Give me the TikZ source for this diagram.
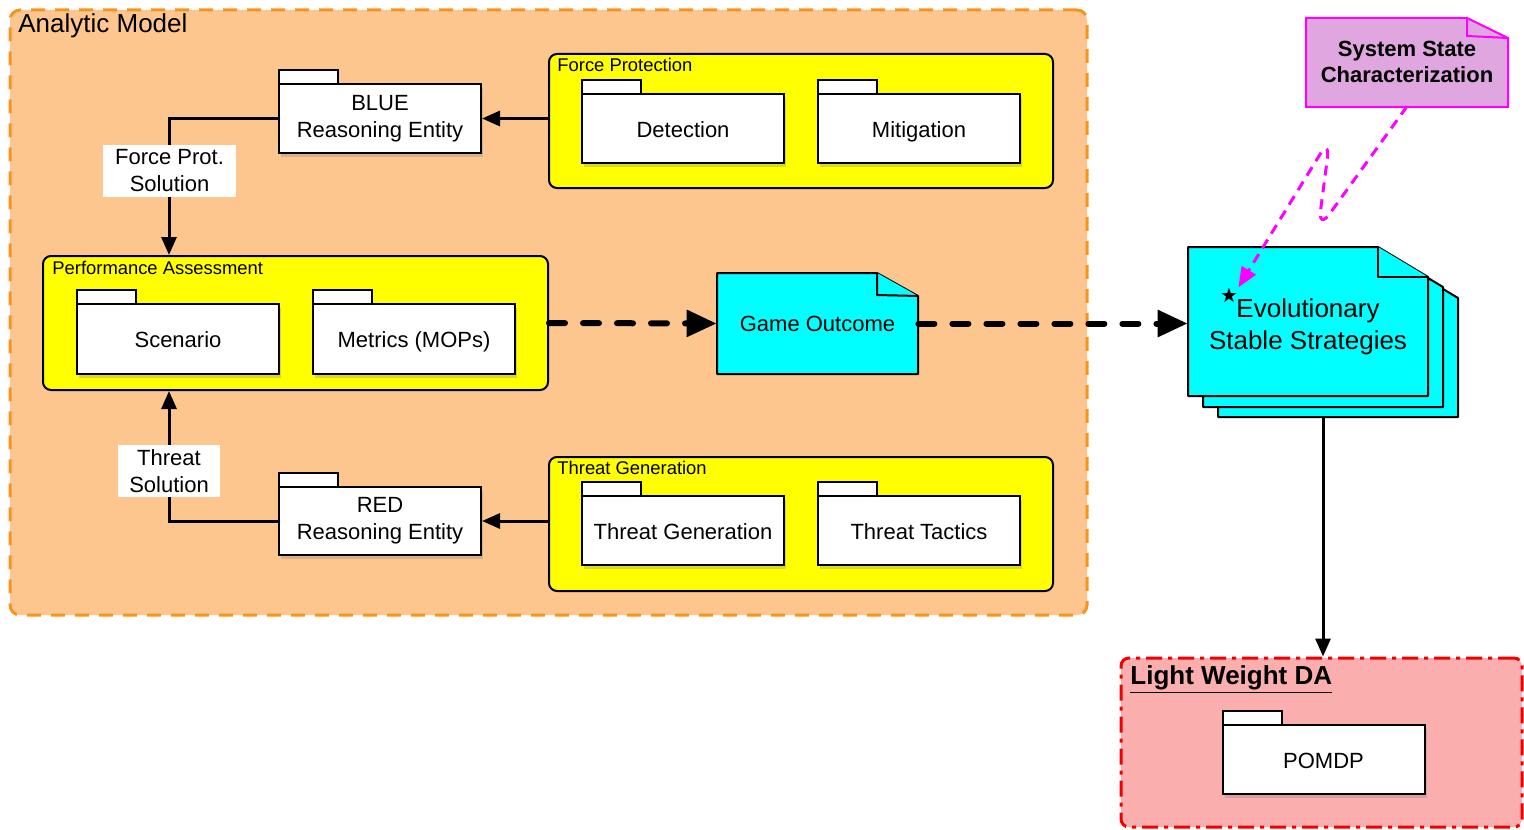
\documentclass[tikz,border=0pt]{standalone}
\usepackage{fontspec}
\setmainfont{Liberation Sans}
\newfontfamily\starfont{DejaVu Sans}
\usetikzlibrary{arrows.meta,shadows}
\newlength{\du}
\setlength{\du}{0.5\unitlength}
\definecolor{peachfill}{RGB}{253,198,143}
\definecolor{peachline}{RGB}{247,148,29}
\definecolor{groupyellow}{RGB}{255,255,0}
\definecolor{notecyan}{RGB}{0,255,255}
\definecolor{pinkfill}{RGB}{250,174,174}
\definecolor{daline}{RGB}{240,0,0}
\definecolor{lavender}{RGB}{223,166,223}
\definecolor{magline}{RGB}{255,0,255}
\tikzset{
  analyticbox/.style={draw=peachline, fill=peachfill, line width=3\du, dash pattern=on 14\du off 10\du,
    rounded corners=10\du, minimum width=1077\du, minimum height=605\du, inner sep=0pt},
  groupbox/.style={draw, fill=groupyellow, line width=2\du, rounded corners=8\du,
    minimum width=504\du, minimum height=134\du, inner sep=0pt},
  dabox/.style={draw=daline, fill=pinkfill, line width=3\du, dash pattern=on 16\du off 6\du on 4\du off 6\du,
    rounded corners=8\du, minimum width=401\du, minimum height=169\du, inner sep=0pt},
  biglabel/.style={anchor=base west, inner sep=0pt, font=\fontsize{13}{13}\selectfont},
  grouplabel/.style={anchor=west, inner sep=0pt, font=\fontsize{9.2}{9.2}\selectfont},
  pkgtab/.style={draw, fill=white, line width=2\du},
  package/.style={draw, fill=white, line width=2\du, minimum width=202\du, minimum height=69\du,
    inner sep=0pt, align=center, font=\fontsize{11}{13.5}\selectfont,
    drop shadow={shadow xshift=2\du, shadow yshift=-4\du, opacity=0.3}},
  pkgline/.style={package, text height=9pt, text depth=0.5pt},
  notepaper/.style={draw, fill=notecyan, line width=2\du, line join=round},
  notetext/.style={inner sep=0pt, align=center},
  solution/.style={fill=white, inner xsep=0pt, inner ysep=0pt, minimum height=52\du,
    align=center, font=\fontsize{11}{13.5}\selectfont},
  solidarrow/.style={line width=3\du, -{Triangle[length=9pt,width=7.5pt]}},
  flowarrow/.style={line width=6\du, line cap=round, dash pattern=on 16\du off 18\du,
    -{Triangle[length=15pt,width=13pt]}},
  magarrow/.style={draw=magline, line width=3\du, dash pattern=on 10\du off 7\du, rounded corners=20\du,
    -{Triangle[length=10pt,width=8pt,fill=magline]}},
}

\begin{document}
\begin{tikzpicture}
\pgftransformxscale{1.000000}
\pgftransformyscale{-1.000000}
\useasboundingbox (0\du,0\du) rectangle (1524\du,829\du);
% Analytic Model
\node[analyticbox] (analytic) at (548.5\du,312.5\du) {};
% setfont left to latex
\node[biglabel] (analyticlabel) at (18\du,33\du) {Analytic Model};
% Force Protection
\node[groupbox] (forceprot) at (801\du,121\du) {};
\node[grouplabel] (forceprotlabel) at (557\du,65\du) {Force Protection};
\filldraw[pkgtab] (582\du,80\du) rectangle (641\du,94\du);
\node[pkgline] (detection) at (683\du,128.5\du) {Detection};
\filldraw[pkgtab] (818\du,80\du) rectangle (877\du,94\du);
\node[pkgline] (mitigation) at (919\du,128.5\du) {Mitigation};
% BLUE
\filldraw[pkgtab] (279\du,70\du) rectangle (338\du,84\du);
\node[package] (blue) at (380\du,118.5\du) {BLUE\\Reasoning Entity};
% Performance Assessment
\node[groupbox, minimum width=505\du] (perf) at (295.5\du,323\du) {};
\node[grouplabel] (perflabel) at (52\du,268\du) {Performance Assessment};
\filldraw[pkgtab] (77\du,290\du) rectangle (136\du,304\du);
\node[pkgline, minimum height=70\du] (scenario) at (178\du,339\du) {Scenario};
\filldraw[pkgtab] (313\du,290\du) rectangle (372\du,304\du);
\node[pkgline, minimum height=70\du] (metrics) at (414\du,339\du) {Metrics (MOPs)};
% Threat Generation
\node[groupbox] (threatgen) at (801\du,524\du) {};
\node[grouplabel] (threatgenlabel) at (557\du,468\du) {Threat Generation};
\filldraw[pkgtab] (582\du,482\du) rectangle (641\du,496\du);
\node[pkgline] (generation) at (683\du,530.5\du) {Threat Generation};
\filldraw[pkgtab] (818\du,482\du) rectangle (877\du,496\du);
\node[pkgline] (tactics) at (919\du,530.5\du) {Threat Tactics};
% RED
\filldraw[pkgtab] (279\du,473\du) rectangle (338\du,487\du);
\node[package, minimum height=68\du] (red) at (380\du,521\du) {RED\\Reasoning Entity};
% Game Outcome
\filldraw[notepaper] (717\du,273\du)--(877\du,273\du)--(918\du,296\du)--(918\du,374\du)--(717\du,374\du)--cycle;
\draw[notepaper] (877\du,273\du)--(877\du,295\du)--(918\du,296\du);
\node[notetext, minimum width=201\du, minimum height=101\du, font=\fontsize{11}{13.5}\selectfont] (outcome) at (817.5\du,323.5\du) {Game Outcome};
% Evolutionary Stable Strategies
\filldraw[notepaper] (1218\du,268\du)--(1408\du,268\du)--(1458\du,298\du)--(1458\du,417\du)--(1218\du,417\du)--cycle;
\filldraw[notepaper] (1203\du,257\du)--(1393\du,257\du)--(1443\du,287\du)--(1443\du,407\du)--(1203\du,407\du)--cycle;
\filldraw[notepaper] (1188\du,247\du)--(1378\du,247\du)--(1428\du,277\du)--(1428\du,396\du)--(1188\du,396\du)--cycle;
\draw[notepaper] (1378\du,247\du)--(1378\du,277\du)--(1428\du,277\du);
\node[notetext, minimum width=240\du, minimum height=149\du, font=\fontsize{13}{16}\selectfont] (ess) at (1308\du,327\du) {Evolutionary\\Stable Strategies};
\node[inner sep=0pt, font=\starfont\fontsize{10}{10}\selectfont] (star) at (1229\du,295\du) {★};
\coordinate (esstail) at (1323\du,418\du);
% System State Characterization
\filldraw[draw=magline, fill=lavender, line width=2\du] (1306\du,18\du)--(1467\du,18\du)--(1508\du,38\du)--(1508\du,107\du)--(1306\du,107\du)--cycle;
\draw[magline, line width=2\du] (1467\du,18\du)--(1467\du,36\du)--(1508\du,38\du);
\node[notetext, minimum width=202\du, minimum height=89\du, font=\bfseries\fontsize{11}{13}\selectfont] (ssc) at (1407\du,61.5\du) {System State\\Characterization};
% Light Weight DA
\node[dabox] (lwda) at (1321.5\du,742.5\du) {};
\node[biglabel, font=\bfseries\fontsize{13}{13}\selectfont] (lwdalabel) at (1130\du,684\du) {\underline{Light Weight DA}};
\filldraw[pkgtab] (1223\du,711\du) rectangle (1282\du,725\du);
\node[pkgline] (pomdp) at (1323.5\du,759.5\du) {POMDP};
% connectors
\coordinate (fpturn) at (169\du,118.5\du);
\coordinate (thturn) at (169\du,521\du);
\draw[solidarrow] (forceprot.west |- blue.east) -- (blue.east);
\draw[solidarrow] (threatgen.west |- red.east) -- (red.east);
\draw[solidarrow] (blue.west) -- (fpturn) -- (fpturn |- perf.north);
\draw[solidarrow] (red.west) -- (thturn) -- (thturn |- perf.south);
\node[solution, minimum width=133\du] (fpsolution) at (169.5\du,171\du) {Force Prot.\\Solution};
\node[solution, minimum width=102\du] (thsolution) at (169\du,471\du) {Threat\\Solution};
\draw[flowarrow] (perf.east) -- (outcome.west);
\draw[flowarrow] (outcome.east) -- (outcome.east -| ess.west);
\draw[solidarrow] (esstail) -- (esstail |- lwda.north);
\draw[magarrow] (ssc.south) -- (1318\du,230\du) -- (1330\du,138\du) -- (star.north east);
\end{tikzpicture}
\end{document}
